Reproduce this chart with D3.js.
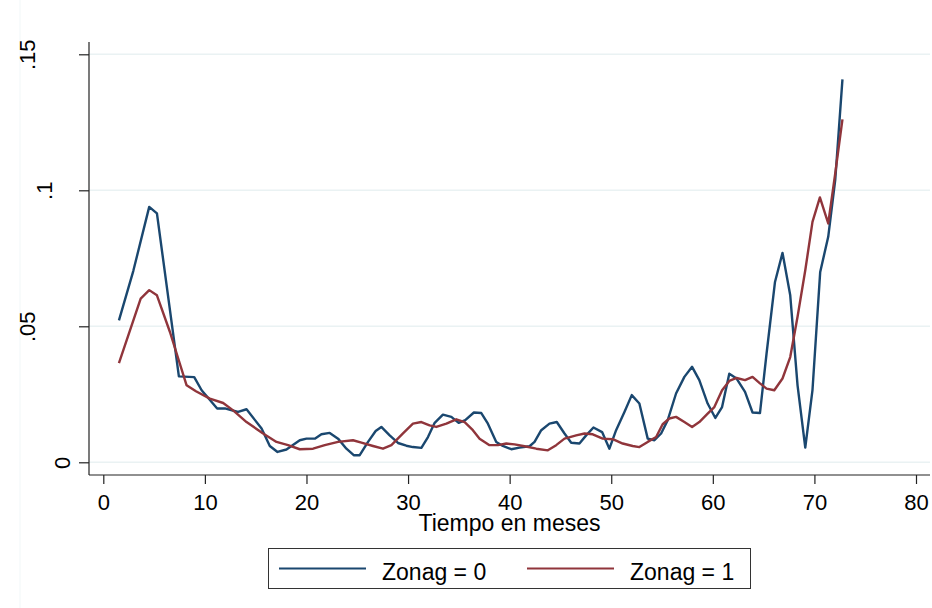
<!DOCTYPE html>
<html>

<head>
    <meta charset="utf-8">
    <style>
        body {
            margin: 0;
            background: white;
        }

        svg {
            display: block;
            font-family: 'Liberation Sans', Arial, Helvetica, sans-serif;
        }

        .grid line {
            stroke: #eaf2f3;
            stroke-width: 1.5;
        }

        .x .tick text {
            font-size: 22px;
            fill: #000;
        }

        .y .tick text {
            font-size: 22px;
            fill: #000;
        }

        .axis-label {
            font-size: 23px;
        }

        .legend text {
            font-size: 23px;
        }
    </style>
</head>

<body>
    <svg width="932" height="608"></svg>
</body>

<script src="https://d3js.org/d3.v7.min.js"></script>

<script>
    // values: [tiempo en meses, valor]
    let zonag0 = [
        [1.54, .0522], [2.95, .0703], [4.52, .0939], [5.28, .0915], [7.44, .0316], [8.95, .0313],
        [9.68, .0265], [11.21, .0198], [11.97, .0198], [13.27, .0185], [14.10, .0195], [15.58, .0124],
        [16.39, .0060], [17.15, .0038], [18.03, .0047], [19.34, .0081], [20.00, .0087], [20.82, .0087],
        [21.47, .0103], [22.29, .0108], [23.11, .0087], [23.93, .0050], [24.65, .0026], [25.24, .0026],
        [26.06, .0075], [26.81, .0115], [27.37, .0130], [28.19, .0099], [29.01, .0071], [29.83, .0061],
        [30.48, .0056], [31.31, .0053], [31.96, .0093], [32.62, .0145], [33.43, .0175], [34.26, .0167],
        [34.98, .0145], [35.63, .0155], [36.48, .0183], [37.21, .0181], [37.86, .0142], [38.68, .0075],
        [39.33, .0060], [40.16, .0048], [40.97, .0054], [41.96, .0059], [42.45, .0075], [43.11, .0118],
        [43.92, .0142], [44.64, .0148], [45.40, .0106], [46.06, .0072], [46.87, .0069], [47.53, .0099],
        [48.25, .0128], [49.10, .0111], [49.82, .0050], [50.48, .0118], [51.30, .0185], [52.02, .0247],
        [52.77, .0216], [53.59, .0087], [54.25, .0081], [54.91, .0106], [55.56, .0155], [56.38, .0253],
        [57.20, .0314], [57.96, .0351], [58.67, .0302], [59.49, .0216], [60.25, .0163], [60.91, .0203],
        [61.62, .0326], [62.34, .0308], [63.17, .0259], [63.91, .0183], [64.64, .0181], [65.29, .0400],
        [66.12, .0663], [66.86, .0770], [67.62, .0614], [68.34, .0283], [69.10, .0054], [69.81, .0265],
        [70.57, .0700], [71.36, .0829], [72.05, .1038], [72.76, .1408]
    ]

    let zonag1 = [
        [1.54, .0365], [3.68, .0602], [4.52, .0633], [5.28, .0614], [6.56, .0479], [8.20, .0283],
        [9.12, .0261], [10.49, .0234], [11.80, .0218], [12.78, .0191], [14.10, .0148], [15.73, .0106],
        [17.05, .0075], [18.19, .0063], [19.34, .0048], [20.65, .0050], [21.80, .0063], [23.11, .0075],
        [24.58, .0081], [25.41, .0072], [26.55, .0060], [27.53, .0050], [28.36, .0063], [29.50, .0106],
        [30.48, .0142], [31.31, .0148], [32.12, .0136], [32.78, .0130], [33.77, .0142], [34.75, .0158],
        [35.57, .0148], [36.38, .0118], [37.04, .0087], [38.02, .0063], [38.84, .0063], [39.67, .0069],
        [40.48, .0066], [41.47, .0059], [42.62, .0050], [43.76, .0044], [44.58, .0063], [45.40, .0087],
        [46.55, .0099], [47.37, .0106], [48.18, .0103], [49.16, .0087], [50.15, .0085], [51.13, .0069],
        [52.11, .0060], [52.77, .0056], [53.59, .0075], [54.42, .0093], [55.06, .0140], [55.72, .0161],
        [56.38, .0167], [57.20, .0148], [57.96, .0130], [58.67, .0148], [59.49, .0179], [60.15, .0203],
        [60.91, .0265], [61.62, .0299], [62.34, .0310], [63.17, .0302], [63.91, .0314], [64.64, .0290],
        [65.29, .0271], [66.05, .0265], [66.86, .0308], [67.62, .0387], [68.34, .0535], [69.10, .0706],
        [69.81, .0884], [70.54, .0974], [71.36, .0878], [72.05, .1062], [72.76, .1261]
    ]

    let xTicks = [0, 10, 20, 30, 40, 50, 60, 70, 80]
    let yTicks = [0, .05, .1, .15]
    let yTickLabels = ["0", ".05", ".1", ".15"]

    let seriesNames = ["Zonag = 0", "Zonag = 1"]
    let seriesColors = ["#1a476f", "#90353b"]
    let xTitle = "Tiempo en meses"

    let svg = d3.select("svg")

    // plot region (axis lines sit at left / bottom)
    let axisLeftX = 89
    let axisBottomY = 475
    let plotRight = 930
    let plotTop = 42

    let x = d3.scaleLinear()
        .domain([0, 80])
        .range([103.3, 916])

    let y = d3.scaleLinear()
        .domain([0, .15])
        .range([462.3, 54.3])

    // faint outer border line seen at the left edge
    svg.append("line")
        .attr("x1", 20).attr("x2", 20)
        .attr("y1", 0).attr("y2", 608)
        .attr("stroke", "#f1f7f8")
        .attr("stroke-width", 1)

    // gridlines
    svg.append("g")
        .attr("class", "grid")
        .selectAll("line")
        .data(yTicks)
        .join("line")
        .attr("x1", axisLeftX)
        .attr("x2", plotRight)
        .attr("y1", d => y(d))
        .attr("y2", d => y(d))

    // x axis
    let xAxisSettings = d3.axisBottom(x)
        .tickValues(xTicks)
        .tickSize(9)
        .tickFormat(d3.format("d"))

    svg.append("g")
        .attr("class", "x axis")
        .attr("transform", `translate(0, ${axisBottomY})`)
        .call(xAxisSettings)
        .call(g => g.select(".domain").remove())
        .call(g => g.selectAll(".tick line").attr("stroke", "#222").attr("stroke-width", 1.2))
        .call(g => g.selectAll(".tick text").attr("dy", "0.71em").attr("y", 19))

    svg.append("line")
        .attr("x1", axisLeftX)
        .attr("x2", plotRight)
        .attr("y1", axisBottomY)
        .attr("y2", axisBottomY)
        .attr("stroke", "#222")
        .attr("stroke-width", 1.2)

    // y axis, labels turned 90 degrees
    let yAxisSettings = d3.axisLeft(y)
        .tickValues(yTicks)
        .tickSize(10)
        .tickFormat((d, i) => yTickLabels[i])

    svg.append("g")
        .attr("class", "y axis")
        .attr("transform", `translate(${axisLeftX}, 0)`)
        .call(yAxisSettings)
        .call(g => g.select(".domain").remove())
        .call(g => g.selectAll(".tick line").attr("stroke", "#222").attr("stroke-width", 1.2))
        .call(g => g.selectAll(".tick text")
            .attr("x", null)
            .attr("dy", null)
            .attr("text-anchor", "middle")
            .attr("transform", (d, i) => `translate(${-2 - 17.5 * yTickLabels[i].length}, 0) rotate(-90)`))

    svg.append("line")
        .attr("x1", axisLeftX)
        .attr("x2", axisLeftX)
        .attr("y1", plotTop)
        .attr("y2", axisBottomY)
        .attr("stroke", "#222")
        .attr("stroke-width", 1.2)

    // lines
    let line = d3.line()
        .x(d => x(d[0]))
        .y(d => y(d[1]))

    svg.append("g")
        .selectAll("path")
        .data([zonag0, zonag1])
        .join("path")
        .attr("fill", "none")
        .attr("stroke", (d, i) => seriesColors[i])
        .attr("stroke-width", 2.4)
        .attr("stroke-linejoin", "round")
        .attr("d", line)

    // axis title
    svg.append("text")
        .attr("class", "axis-label")
        .attr("x", (axisLeftX + plotRight) / 2)
        .attr("y", 531)
        .attr("text-anchor", "middle")
        .text(xTitle)

    // legend
    let legend = svg.append("g").attr("class", "legend")

    legend.append("rect")
        .attr("x", 268.5)
        .attr("y", 548.5)
        .attr("width", 482)
        .attr("height", 40)
        .attr("fill", "white")
        .attr("stroke", "#333")
        .attr("stroke-width", 1)

    let legendItems = legend.selectAll(".item")
        .data(seriesNames)
        .join("g")
        .attr("class", "item")
        .attr("transform", (d, i) => `translate(${279 + i * 248}, 568.5)`)

    legendItems.append("line")
        .attr("x1", 0)
        .attr("x2", 87)
        .attr("stroke", (d, i) => seriesColors[i])
        .attr("stroke-width", 2)

    legendItems.append("text")
        .attr("x", 103)
        .attr("y", 11)
        .text(d => d)
</script>

</html>
